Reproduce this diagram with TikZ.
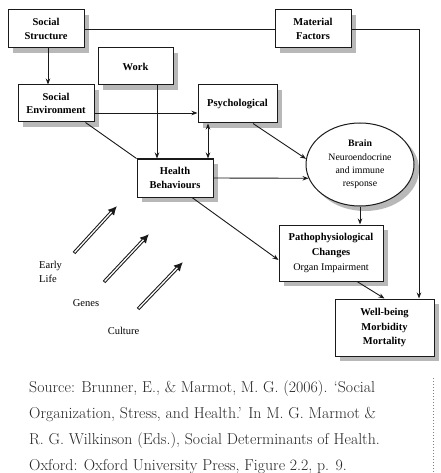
\documentclass[tikz,border=0pt]{standalone}
\usepackage{fontspec}
\setmainfont{Liberation Serif}
\newfontfamily\capfont{Latin Modern Roman}
\usetikzlibrary{shapes.geometric,shadows,arrows.meta,calc,backgrounds}
\definecolor{shadowgray}{HTML}{B8B8B8}
\definecolor{linegray}{HTML}{1A1A1A}
\begin{document}
\begin{tikzpicture}[x=1pt,y=-1pt,
  shad/.style={drop shadow={shadow xshift=5pt,shadow yshift=-5pt,fill=shadowgray,opacity=1}},
  box/.style={draw=linegray, line width=1pt, fill=white, align=center, inner sep=1pt,
    font=\fontsize{10.5}{13.5}\selectfont\bfseries, shad},
  conn/.style={draw=linegray, line width=0.9pt},
  arr/.style={conn, -{Stealth[length=6pt,width=4.5pt]}},
  darr/.style={conn, {Stealth[length=6pt,width=4.5pt]}-{Stealth[length=6pt,width=4.5pt]}},
  lbl/.style={font=\fontsize{10.5}{13.5}\selectfont, align=left, inner sep=0pt},
  captxt/.style={font=\capfont\fontsize{15.8}{26}\selectfont, anchor=base west, inner sep=0pt, text=black!85},
]
\useasboundingbox[fill=white] (0,0) rectangle (440,473);

% boxes
\node[box, minimum width=76pt, minimum height=38pt] (ss) at (46,29) {Social\\Structure};
\node[box, minimum width=76pt, minimum height=38pt] (mf) at (313,29) {Material\\Factors};
\node[box, minimum width=75pt, minimum height=37pt] (work) at (135.5,66.5) {Work};
\node[box, minimum width=76pt, minimum height=37pt] (se) at (56,103.5) {Social\\Environment};
\node[box, minimum width=79pt, minimum height=38pt] (psych) at (237.5,104) {Psychological};
\node[box, minimum width=76pt, minimum height=38pt] (health) at (175,178) {Health\\Behaviours};
\node[draw=linegray, line width=1pt, fill=white, ellipse, shad, minimum width=108pt, minimum height=83pt,
      inner sep=0pt, align=center, font=\fontsize{9.8}{13.4}\selectfont] (brain) at (360,164.5)
      {\textbf{Brain}\\Neuroendocrine\\and immune\\response};
\node[box, minimum width=104pt, minimum height=56pt, font=\fontsize{10.5}{15}\selectfont] (path) at (331,253)
      {\textbf{Pathophysiological}\\\textbf{Changes}\\\fontsize{10.2}{15}\selectfont Organ Impairment};
\node[box, minimum width=99pt, minimum height=57pt, font=\fontsize{10.5}{14.3}\selectfont\bfseries] (wb) at (384.5,327.5)
      {Well-being\\Morbidity\\Mortality};

% line passing behind Work
\begin{scope}[on background layer]
\draw[conn] (ss.east) -- ([yshift=-9pt]psych.north west);
\end{scope}

% connectors
\draw[conn] (ss.east) -- (mf.west);
\draw[arr] (mf.east) -| ([xshift=34.5pt]wb.north);
\draw[arr] ([xshift=2pt]ss.south) -- ([xshift=2pt]ss.south |- se.north);
\draw[arr] ([yshift=-9.5pt]se.east) -- ([yshift=-9.5pt]se.east -| psych.west);
\draw[arr] ([xshift=21.5pt]work.south) -- ([xshift=21.5pt]work.south |- health.north);
\draw[darr] ([xshift=-29.5pt]psych.south) -- ([xshift=-29.5pt]psych.south |- health.north);
\draw[conn] ([xshift=-9pt]se.south east) -- (health.north west);
\draw[arr] ([xshift=15.5pt]psych.south) -- (brain.174);
\draw[arr] (health.east) -- (brain.195);
\draw[arr] ([xshift=17pt]health.south) -- ([yshift=-7pt]path.west);
\draw[arr] (brain.south) -- (brain.south |- path.north);
\draw[arr] ([xshift=26pt]path.south) -- (wb.north);

% outlined arrows
\coordinate (a1s) at (74,253); \coordinate (a1e) at (117,206);
\coordinate (a2s) at (104,282); \coordinate (a2e) at (149,234);
\coordinate (a3s) at (138,309); \coordinate (a3e) at (183,262);
\foreach \s/\e in {a1s/a1e,a2s/a2e,a3s/a3e}{
  \draw[linegray, line width=3.4pt, -{Latex[length=9pt,width=9pt]}] (\s) -- (\e);
  \draw[white, line width=1.3pt, shorten >=8pt, shorten <=0.9pt] (\s) -- (\e);
}

% labels
\node[lbl, anchor=west] (early) at (39,272) {Early\\Life};
\node[lbl] (genes) at (86,303) {Genes};
\node[lbl] (culture) at (123.5,331) {Culture};

% caption
\node[captxt] (c1) at (29,392.7) {Source: Brunner, E., \& Marmot, M. G. (2006). ‘Social};
\node[captxt] (c2) at (29,418.5) {Organization, Stress, and Health.’ In M. G. Marmot \&};
\node[captxt] (c3) at (29,444.3) {R. G. Wilkinson (Eds.), Social Determinants of Health.};
\node[captxt] (c4) at (29,470.1) {Oxford: Oxford University Press, Figure 2.2, p. 9.};
\draw[gray, dotted, line width=1pt] (433,378) -- (433,473);
\end{tikzpicture}
\end{document}
